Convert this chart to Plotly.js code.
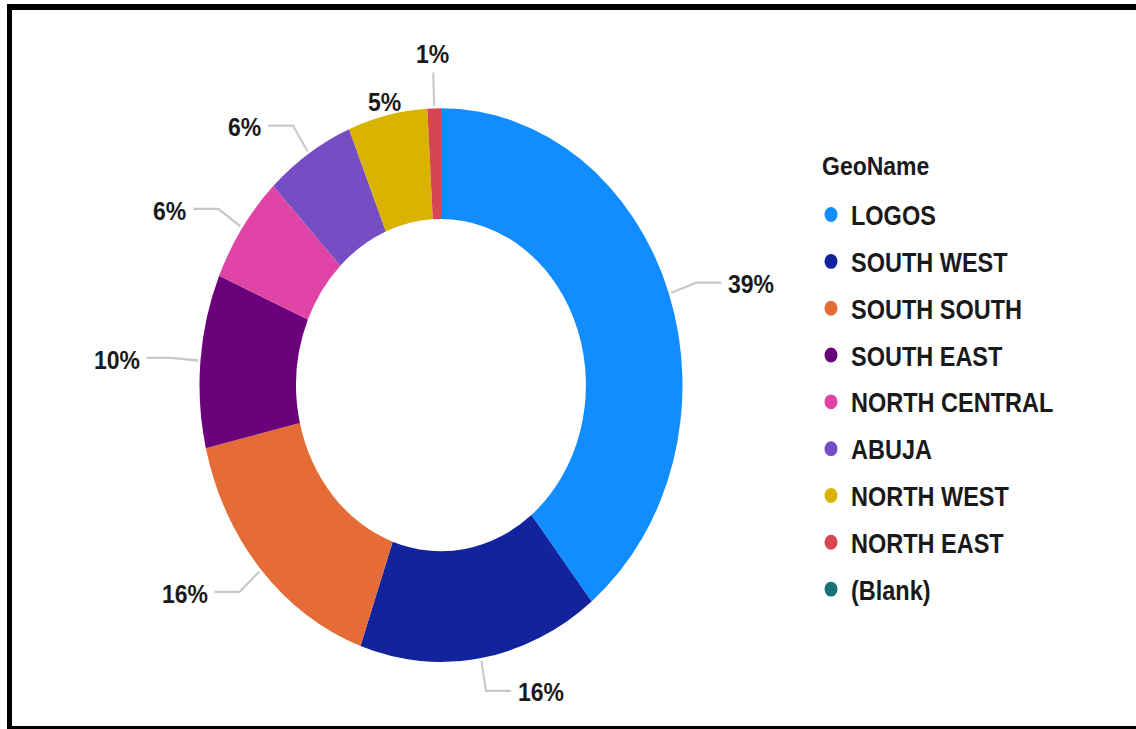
<!DOCTYPE html>
<html>
<head>
<meta charset="utf-8">
<script src="https://cdn.plot.ly/plotly-3.0.1.min.js"></script>
<style>
html,body{margin:0;padding:0;background:#fff;overflow:hidden;width:1136px;height:729px;}
#wrap{position:absolute;left:0;top:0;width:1136px;height:636px;transform:scaleY(1.1462);transform-origin:0 0;}
#frame{position:absolute;left:7px;top:4px;width:1200px;height:725px;border-top:6px solid #000;border-left:5px solid #000;border-bottom:3px solid #000;box-sizing:border-box;pointer-events:none;z-index:5;}
</style>
</head>
<body>
<div id="wrap"><div id="chart" style="width:1136px;height:636px;"></div></div>
<div id="frame"></div>
<script>
// ---- data ----
const categories = ['LOGOS', 'SOUTH WEST', 'SOUTH SOUTH', 'SOUTH EAST', 'NORTH CENTRAL', 'ABUJA', 'NORTH WEST', 'NORTH EAST', '(Blank)'];
const shares = [39.2, 16.1, 15.9, 10.1, 6.3, 6.0, 5.3, 0.9, 0];
const colors = ['#118DFF', '#12239E', '#E66C37', '#6B007B', '#E044A7', '#744EC2', '#D9B300', '#D64550', '#197278'];
const legendTitle = 'GeoName';

// ---- geometry (pixels, in the unscaled plot) ----
const W = 1136, H = 636;
const cx = 441, cy = 336, R = 241.5;
const FONT = 'Liberation Sans, Arial, sans-serif';
const TXT = '#1a1a1a';
const LINE = '#c8c8c8';

const px = x => x / W;
const py = y => 1 - y / H;

const total = shares.reduce((a, b) => a + b, 0);

const pie = {
  type: 'pie',
  labels: categories,
  values: shares,
  marker: {colors: colors, line: {width: 0}},
  hole: 0.6,
  sort: false,
  direction: 'clockwise',
  rotation: 0,
  textinfo: 'none',
  showlegend: false,
  hoverinfo: 'label+percent',
  domain: {x: [px(cx - R), px(cx + R)], y: [py(cy + R), py(cy - R)]}
};

// legend-only entries (circle symbols)
const legendTraces = categories.map((c, i) => ({
  type: 'scatter', x: [null], y: [null], mode: 'markers', name: c,
  legendgroup: 'g' + i,
  marker: {color: colors[i], size: 13, symbol: 'circle'},
  hoverinfo: 'skip'
}));

// data labels with leader lines, placed from slice angles
const annotations = [];
const shapes = [];
let cum = 0;
shares.forEach((v, i) => {
  if (v <= 0) { return; }
  const frac = v / total;
  const mid = (cum + v / 2) / total * 2 * Math.PI;
  cum += v;
  const s = Math.sin(mid), c = Math.cos(mid);
  const label = Math.round(frac * 100) + '%';
  const pt = r => [cx + r * R * s, cy - r * R * c];
  if (c > 0.9) {
    const rl = frac < 0.02 ? 1.2 : 1.055;
    const t = pt(rl);
    if (rl > 1.15) {
      const a = pt(1.01), b = pt(1.13);
      shapes.push({type: 'path', xref: 'paper', yref: 'paper',
        path: `M${px(a[0])},${py(a[1])} L${px(b[0])},${py(b[1])}`,
        line: {color: LINE, width: 2}});
    }
    annotations.push({xref: 'paper', yref: 'paper', x: px(t[0]), y: py(t[1]),
      text: label, showarrow: false, xanchor: 'center', yanchor: 'middle', yshift: -1,
      font: {family: FONT, size: 23, weight: 'bold', color: TXT}});
  } else {
    const dir = s >= 0 ? 1 : -1;
    const a = pt(1.01), e = pt(1.12);
    const b = [e[0] + dir * 25, e[1]];
    shapes.push({type: 'path', xref: 'paper', yref: 'paper',
      path: `M${px(a[0])},${py(a[1])} L${px(e[0])},${py(e[1])} L${px(b[0])},${py(b[1])}`,
      line: {color: LINE, width: 2}});
    annotations.push({xref: 'paper', yref: 'paper', x: px(b[0] + dir * 5), y: py(b[1]),
      text: label, showarrow: false, xanchor: dir > 0 ? 'left' : 'right', yanchor: 'middle', yshift: -1.5,
      font: {family: FONT, size: 23, weight: 'bold', color: TXT}});
  }
});

// legend heading
annotations.push({xref: 'paper', yref: 'paper', x: px(820), y: py(145), xanchor: 'left', yanchor: 'middle',
  text: legendTitle, showarrow: false,
  font: {family: FONT, size: 23, weight: 'bold', color: TXT}});

const layout = {
  width: W, height: H,
  margin: {l: 0, r: 0, t: 0, b: 0},
  paper_bgcolor: '#ffffff',
  plot_bgcolor: 'rgba(0,0,0,0)',
  xaxis: {visible: false, range: [0, 1]},
  yaxis: {visible: false, range: [0, 1]},
  showlegend: true,
  legend: {
    x: px(811), xanchor: 'left', y: py(165.4), yanchor: 'top',
    bgcolor: 'rgba(0,0,0,0)',
    tracegroupgap: 7.3,
    font: {family: FONT, size: 23.5, weight: 'bold', color: TXT}
  },
  annotations: annotations,
  shapes: shapes
};

Plotly.newPlot('chart', [pie].concat(legendTraces), layout, {displayModeBar: false, staticPlot: true});
</script>
</body>
</html>
